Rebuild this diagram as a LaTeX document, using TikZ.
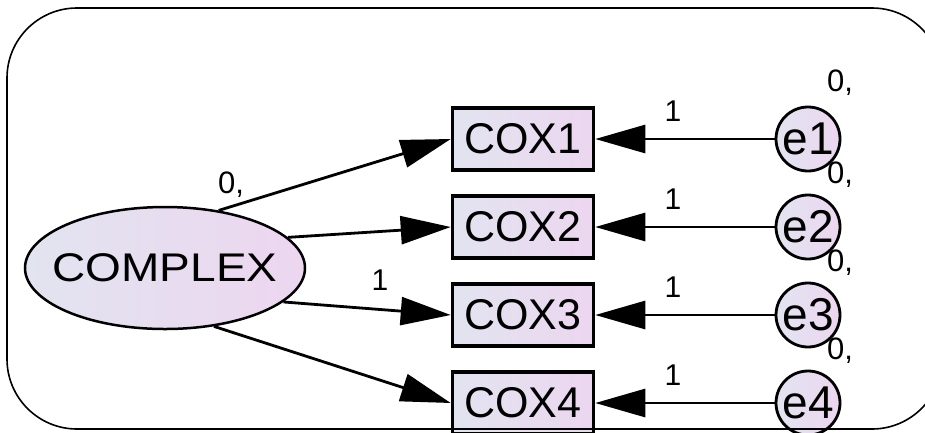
\documentclass[tikz,border=0pt]{standalone}
\usepackage{fontspec}
\setmainfont{Liberation Sans}
\usetikzlibrary{arrows.meta,shapes.geometric}

\definecolor{fillL}{RGB}{226,228,240}
\definecolor{fillR}{RGB}{237,214,240}

\begin{document}
\begin{tikzpicture}[x=1pt,y=-1pt,
  latent/.style={ellipse, draw, line width=2.5pt, minimum width=280pt,
    minimum height=122pt, inner sep=0pt, left color=fillL, right color=fillR},
  lattext/.style={inner sep=0pt, font=\fontsize{40}{40}\selectfont},
  observed/.style={rectangle, draw, line width=3.5pt, minimum width=141pt,
    minimum height=62pt, inner sep=0pt, left color=fillL, right color=fillR,
    font=\fontsize{43}{43}\selectfont},
  errvar/.style={circle, draw, line width=2.8pt, minimum size=64pt,
    inner sep=0pt, left color=fillL, right color=fillR,
    font=\fontsize{46}{46}\selectfont},
  path/.style={line width=2.8pt, -{Triangle[length=50pt,width=28pt]}},
  est/.style={inner sep=0pt, font=\fontsize{30}{30}\selectfont},
  var/.style={inner sep=0pt, font=\fontsize{31}{31}\selectfont}]
\useasboundingbox (0,0) rectangle (925,432);

% latent factor
\node[latent] (C) at (165,268) {};
\node[lattext] (Ct) at (C.center) {\scalebox{1.15}[1]{COMPLEX}};

% indicators
\node[observed] (X1) at (523,139) {COX1};
\node[observed] (X2) at (523,227) {COX2};
\node[observed] (X3) at (523,315) {COX3};
\node[observed] (X4) at (523,403) {COX4};

% error terms
\node[errvar] (E1) at (808,139) {e1};
\node[errvar] (E2) at (808,227) {e2};
\node[errvar] (E3) at (808,315) {e3};
\node[errvar] (E4) at (808,403) {e4};

% loadings
\draw[path] (C.47) -- (X1.west);
\draw[path] (C.14) -- (X2.west);
\draw[path] (C.-16) -- (X3.west);
\draw[path] (C.-50) -- (X4.west);

% error paths
\draw[path] (E1) -- (X1);
\draw[path] (E2) -- (X2);
\draw[path] (E3) -- (X3);
\draw[path] (E4) -- (X4);

% estimates
\node[var, anchor=base] (vC) at (231,193) {0,};
\node[est, anchor=base] (lC) at (380,290) {1};
\node[est, anchor=base] (l1) at (673,121) {1};
\node[est, anchor=base] (l2) at (673,209) {1};
\node[est, anchor=base] (l3) at (673,297) {1};
\node[est, anchor=base] (l4) at (673,385) {1};
\node[var, anchor=base] (v1) at (840,91) {0,};
\node[var, anchor=base] (v2) at (840,183) {0,};
\node[var, anchor=base] (v3) at (840,271) {0,};
\node[var, anchor=base] (v4) at (840,359) {0,};

% outer frame, running past the right edge
\draw[line width=1.6pt, rounded corners=70pt] (7,8) rectangle (942,429);
\end{tikzpicture}
\end{document}
